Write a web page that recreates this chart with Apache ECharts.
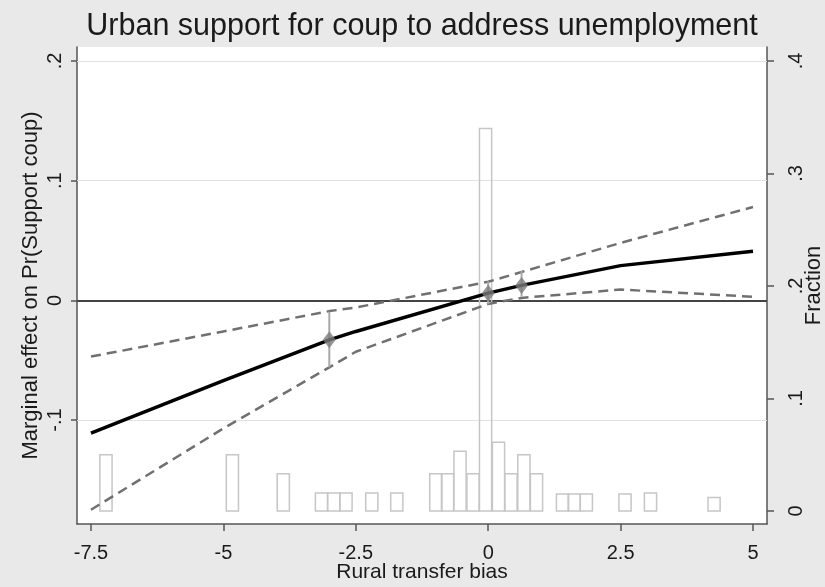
<!DOCTYPE html>
<html><head><meta charset="utf-8">
<script src="https://cdn.jsdelivr.net/npm/echarts@6/dist/echarts.min.js"></script>
<style>html,body{margin:0;padding:0;background:#e9e9e9}#c{width:825px;height:587px}</style>
</head><body><div id="c"></div>
<script>
const titleText = 'Urban support for coup to address unemployment';
const xTitle = 'Rural transfer bias';
const yLeftTitle = 'Marginal effect on Pr(Support coup)';
const yRightTitle = 'Fraction';
const xTicks = [-7.5, -5, -2.5, 0, 2.5, 5];
const leftTicks = [-0.1, 0, 0.1, 0.2];
const rightTicks = [0, 0.1, 0.2, 0.3, 0.4];
const gridVals = [-0.1, 0.1, 0.2];
const evalX  = [-7.5, -5, -3, -2.5, 0, 0.63, 2.5, 5];
const effect = [-0.111, -0.067, -0.033, -0.026, 0.006, 0.0125, 0.029, 0.041];
const upper  = [-0.047, -0.026, -0.009, -0.006, 0.0155, 0.0237, 0.048, 0.078];
const lower  = [-0.175, -0.107, -0.056, -0.043, -0.003, 0.002, 0.009, 0.003];
const pointX  = [-3, 0, 0.63];
const pointY  = [-0.033, 0.006, 0.0125];
const pointLo = [-0.056, -0.0033, 0.003];
const pointHi = [-0.0095, 0.0158, 0.0245];
const binCenters = [-7.217, -4.83, -3.869, -3.148, -2.917, -2.685, -2.198, -1.726, -0.989, -0.768, -0.532, -0.287, -0.05, 0.194, 0.43, 0.674, 0.912, 1.403, 1.624, 1.853, 2.583, 3.064, 4.264];
const binFractions = [0.050, 0.050, 0.033, 0.016, 0.016, 0.016, 0.016, 0.016, 0.033, 0.033, 0.053, 0.033, 0.34, 0.061, 0.033, 0.050, 0.033, 0.015, 0.015, 0.015, 0.015, 0.016, 0.012];
const binWidth = 0.23;

const FONT = 'Liberation Sans, Arial, Helvetica, sans-serif';
const axisColor = '#555';
const textColor = '#1a1a1a';
const stataFmt = v => {
  if (Math.abs(v) < 1e-9) return '0';
  return String(+v.toFixed(4)).replace('0.', '.');
};
const pairs = (xs, ys) => xs.map((x, i) => [x, ys[i]]);

const chart = echarts.init(document.getElementById('c'));
chart.setOption({
  backgroundColor: '#e9e9e9',
  animation: false,
  title: {
    text: titleText, left: 422, top: 11, textAlign: 'center', padding: 0,
    textStyle: {fontFamily: FONT, fontSize: 30.5, fontWeight: 'normal', color: textColor}
  },
  grid: {left: 77, right: 58, top: 47, bottom: 63, show: true, backgroundColor: '#ffffff', borderWidth: 0, containLabel: false, outerBoundsMode: 'none'},
  xAxis: {
    type: 'value', min: -7.764, max: 5.264,
    name: xTitle, nameLocation: 'middle', nameGap: 38, nameMoveOverlap: false,
    nameTextStyle: {fontFamily: FONT, fontSize: 21, color: textColor},
    axisLine: {show: true, onZero: false, lineStyle: {color: axisColor, width: 1.5}},
    axisTick: {show: true, customValues: xTicks, length: 7, lineStyle: {color: axisColor, width: 1.5}},
    axisLabel: {customValues: xTicks, margin: 19, fontFamily: FONT, fontSize: 20, color: textColor, formatter: v => String(v)},
    splitLine: {show: false}
  },
  yAxis: [{
    type: 'value', position: 'left', min: -0.1869, max: 0.2117,
    name: yLeftTitle, nameLocation: 'middle', nameGap: 35, nameRotate: 90, nameMoveOverlap: false,
    nameTextStyle: {fontFamily: FONT, fontSize: 22, color: textColor},
    axisLine: {show: true, onZero: false, lineStyle: {color: axisColor, width: 1.5}},
    axisTick: {show: true, customValues: leftTicks, length: 6, lineStyle: {color: axisColor, width: 1.5}},
    axisLabel: {customValues: leftTicks, rotate: 90, margin: 12, fontFamily: FONT, fontSize: 20, color: textColor, formatter: stataFmt},
    splitLine: {show: false}
  }, {
    type: 'value', position: 'right', min: -0.01156, max: 0.41244,
    name: yRightTitle, nameLocation: 'middle', nameGap: 36, nameRotate: 90, nameMoveOverlap: false,
    nameTextStyle: {fontFamily: FONT, fontSize: 22, color: textColor},
    axisLine: {show: true, onZero: false, lineStyle: {color: axisColor, width: 1.5}},
    axisTick: {show: true, customValues: rightTicks, length: 7, lineStyle: {color: axisColor, width: 1.5}},
    axisLabel: {customValues: rightTicks, rotate: 90, margin: 19, fontFamily: FONT, fontSize: 20, color: textColor, formatter: stataFmt},
    splitLine: {show: false}
  }],
  series: [{
    type: 'custom', name: 'hist', xAxisIndex: 0, yAxisIndex: 1, z: 2, silent: true,
    data: pairs(binCenters, binFractions),
    renderItem: (params, api) => {
      const c = api.value(0), h = api.value(1);
      const p1 = api.coord([c - binWidth / 2, h]);
      const p2 = api.coord([c + binWidth / 2, 0]);
      return {type: 'rect', shape: {x: p1[0], y: p1[1], width: p2[0] - p1[0], height: p2[1] - p1[1]},
        style: {fill: 'none', stroke: '#c6c6c6', lineWidth: 1.5}};
    }
  }, {
    type: 'line', name: 'upper', yAxisIndex: 0, z: 3, symbol: 'none', silent: true,
    data: pairs(evalX, upper),
    lineStyle: {color: '#707070', width: 2.5, type: [10, 6]},
    markLine: {
      silent: true, symbol: ['none', 'none'], label: {show: false}, z: 1,
      data: gridVals.map(v => ({yAxis: v, lineStyle: {color: '#e2e2e2', width: 1, type: 'solid'}}))
        .concat([{yAxis: 0, lineStyle: {color: '#444', width: 2, type: 'solid'}}])
    }
  }, {
    type: 'line', name: 'lower', yAxisIndex: 0, z: 3, symbol: 'none', silent: true,
    data: pairs(evalX, lower),
    lineStyle: {color: '#707070', width: 2.5, type: [10, 6]}
  }, {
    type: 'custom', name: 'ci', yAxisIndex: 0, z: 4, silent: true,
    data: pointX.map((x, i) => [x, pointLo[i], pointHi[i]]),
    renderItem: (params, api) => {
      const a = api.coord([api.value(0), api.value(1)]);
      const b = api.coord([api.value(0), api.value(2)]);
      return {type: 'line', shape: {x1: a[0], y1: a[1], x2: b[0], y2: b[1]}, style: {stroke: '#a8a8a8', lineWidth: 2}};
    }
  }, {
    type: 'line', name: 'effect', yAxisIndex: 0, z: 5, symbol: 'none', silent: true,
    data: pairs(evalX, effect),
    lineStyle: {color: '#000', width: 3.5}
  }, {
    type: 'scatter', name: 'points', yAxisIndex: 0, z: 6, silent: true,
    data: pairs(pointX, pointY),
    symbol: 'diamond', symbolSize: [13, 17],
    itemStyle: {color: '#7c7c7c'}
  }]
});
</script>
</body></html>
